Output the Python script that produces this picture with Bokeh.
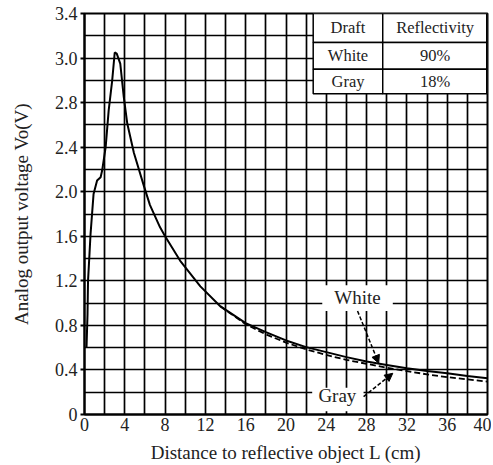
from bokeh.plotting import figure
from bokeh.models import Range1d, FixedTicker, Arrow, NormalHead
from bokeh.embed import file_html
from bokeh.resources import INLINE
from bokeh.core.properties import value

# ---- data ----
white_L = [0.2, 0.3, 0.35, 0.5, 0.6, 0.9, 1.25, 1.6, 1.75, 2.1, 2.4, 2.75, 3.0, 3.2, 3.55, 3.9,
           4.25, 4.9, 5.9, 6.5, 7.5, 8.0, 9.5, 11.5, 13.5, 16, 18, 20, 22, 24, 26, 28, 30, 32,
           34, 36, 38, 40]
white_V = [0.6, 0.9, 1.2, 1.45, 1.62, 1.98, 2.10, 2.13, 2.19, 2.40, 2.73, 3.0, 3.25, 3.24, 3.15, 2.85,
           2.61, 2.35, 2.05, 1.88, 1.68, 1.6, 1.38, 1.15, 0.97, 0.82, 0.74, 0.665, 0.605, 0.56, 0.515,
           0.475, 0.445, 0.415, 0.39, 0.37, 0.345, 0.325]
gray_L = [13.5, 16, 18, 20, 22, 24, 26, 28, 30, 32, 34, 36, 38, 40]
gray_V = [0.97, 0.81, 0.72, 0.645, 0.585, 0.535, 0.49, 0.455, 0.42, 0.39, 0.36, 0.335, 0.315, 0.295]

x_ticks = list(range(0, 41, 4))
x_grid = list(range(0, 41, 2))
y_ticks = [0, 0.4, 0.8, 1.2, 1.6, 2.0, 2.4, 2.8, 3.2, 3.6]
y_tick_labels = ["0", "0.4", "0.8", "1.2", "1.6", "2.0", "2.4", "2.8", "3.0", "3.4"]
y_grid = [round(0.2 * i, 1) for i in range(19)]

table_header = ["Draft", "Reflectivity"]
table_drafts = ["White", "Gray"]
table_reflectivity = ["90%", "18%"]

FONT_NAME = "'Liberation Serif', 'DejaVu Serif', serif"
FONT = value(FONT_NAME)

p = figure(width=491, height=465, output_backend="svg", toolbar_location=None,
           x_range=Range1d(0, 40), y_range=Range1d(0, 3.6),
           min_border_left=84, min_border_right=4, min_border_top=13, min_border_bottom=51)
p.background_fill_color = "white"
p.border_fill_color = "white"
p.outline_line_color = "black"
p.outline_line_width = 2

# grid
p.xgrid.ticker = FixedTicker(ticks=x_grid)
p.ygrid.ticker = FixedTicker(ticks=y_grid)
for g in (p.xgrid, p.ygrid):
    g.grid_line_color = "black"
    g.grid_line_width = 1.7
    g.grid_line_alpha = 1.0

# axes
p.xaxis.ticker = FixedTicker(ticks=x_ticks)
p.yaxis.ticker = FixedTicker(ticks=y_ticks)
p.yaxis.major_label_overrides = {t: s for t, s in zip(y_ticks, y_tick_labels)}
p.xaxis.axis_label = "Distance to reflective object L (cm)"
p.yaxis.axis_label = "Analog output voltage Vo(V)"
for ax in (p.xaxis, p.yaxis):
    ax.axis_line_color = "black"
    ax.axis_line_width = 2
    ax.major_label_text_font = FONT_NAME
    ax.major_label_text_font_size = "18px"
    ax.major_label_text_color = "#222222"
    ax.axis_label_text_font = FONT_NAME
    ax.axis_label_text_font_size = "19px"
    ax.axis_label_text_font_style = "normal"
    ax.axis_label_text_color = "#222222"
    ax.minor_tick_line_color = None
    ax.major_tick_in = 0
p.xaxis.major_tick_out = 0
p.xaxis.major_label_standoff = 3
p.xaxis.axis_label_standoff = 8
p.yaxis.major_tick_out = 4
p.yaxis.major_tick_line_color = "black"
p.yaxis.major_tick_line_width = 2
p.yaxis.major_label_standoff = 3
p.yaxis.axis_label_standoff = 20

# label boxes (white patches breaking the grid)
p.quad(left=[23.6, 22.6], right=[30.6, 27.7], bottom=[0.93, 0.03], top=[1.16, 0.24],
       fill_color="white", line_color=None)

# curves
p.line(white_L, white_V, line_color="black", line_width=2)
p.line(gray_L, gray_V, line_color="black", line_width=1.8, line_dash="6 3")

# labels and arrows
p.text(x=[27.1, 25.1], y=[1.05, 0.17], text=["White", "Gray"], text_font=FONT,
       text_font_size="19px", text_align="center", text_baseline="middle", text_color="#222222")
p.add_layout(Arrow(x_start=27.1, y_start=0.93, x_end=29.2, y_end=0.46,
                   line_color="black", line_width=1.5, line_dash="4 2",
                   end=NormalHead(size=8, fill_color="black", line_color="black")))
p.add_layout(Arrow(x_start=27.7, y_start=0.16, x_end=30.6, y_end=0.37,
                   line_color="black", line_width=1.5, line_dash="4 2",
                   end=NormalHead(size=8, fill_color="black", line_color="black")))

# table in top-right corner
tx = [22.7, 29.6, 40.0]
ty = [3.6, 3.34, 3.10, 2.88]
lefts, rights, bottoms, tops = [], [], [], []
for r in range(3):
    for c in range(2):
        lefts.append(tx[c]); rights.append(tx[c + 1])
        tops.append(ty[r]); bottoms.append(ty[r + 1])
p.quad(left=lefts, right=rights, bottom=bottoms, top=tops,
       fill_color="white", line_color="black", line_width=1.5)
# heavier right edge
p.line([40, 40], [ty[-1], ty[0]], line_color="black", line_width=3)
cx = [(tx[0] + tx[1]) / 2, (tx[1] + tx[2]) / 2]
cy = [(ty[i] + ty[i + 1]) / 2 for i in range(3)]
cells = [table_header, [table_drafts[0], table_reflectivity[0]], [table_drafts[1], table_reflectivity[1]]]
txs, tys, tts = [], [], []
for r in range(3):
    for c in range(2):
        txs.append(cx[c]); tys.append(cy[r]); tts.append(cells[r][c])
p.text(x=txs, y=tys, text=tts, text_font=FONT, text_font_size="16.5px",
       text_align="center", text_baseline="middle", text_color="#222222")

open("out.html", "w").write(file_html(p, INLINE))
